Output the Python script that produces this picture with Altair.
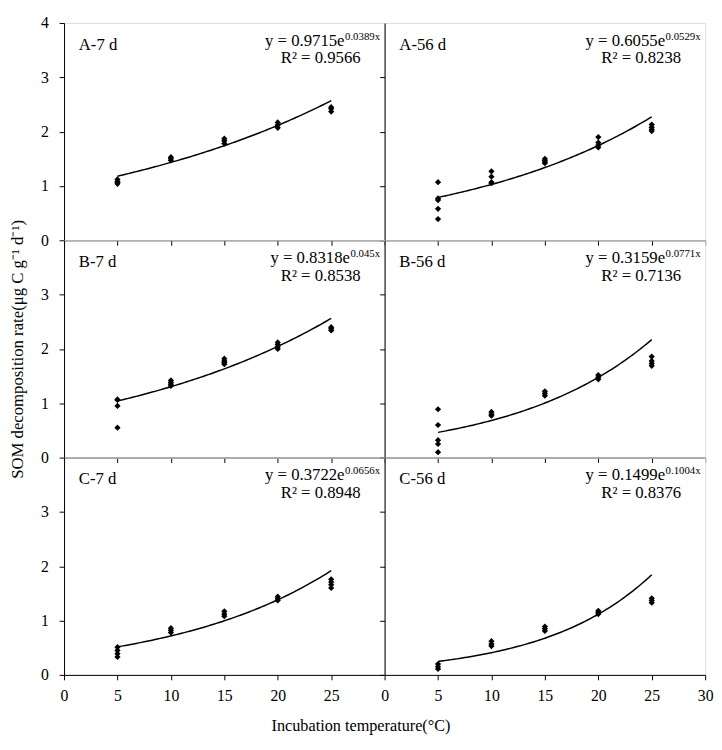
import altair as alt
import pandas as pd

# ---------------- data ----------------
temperature = [5, 10, 15, 20, 25]

panel_names = ["A-7 d", "A-56 d", "B-7 d", "B-56 d", "C-7 d", "C-56 d"]

rate_A7 = [[1.04, 1.08, 1.12, 1.06], [1.47, 1.50, 1.53], [1.78, 1.83, 1.87],
           [2.07, 2.12, 2.17], [2.37, 2.42, 2.45]]
rate_A56 = [[1.07, 0.77, 0.74, 0.58, 0.39], [1.27, 1.17, 1.07, 1.05], [1.50, 1.47, 1.44, 1.42],
            [1.90, 1.80, 1.75, 1.71], [2.13, 2.08, 2.04, 2.01]]
rate_B7 = [[1.07, 1.06, 0.95, 0.55], [1.42, 1.38, 1.35, 1.32], [1.82, 1.78, 1.75, 1.72],
           [2.12, 2.08, 2.04, 2.00], [2.40, 2.37, 2.34]]
rate_B56 = [[0.89, 0.60, 0.32, 0.25, 0.10], [0.84, 0.80, 0.77], [1.22, 1.18, 1.14],
            [1.52, 1.48, 1.44], [1.86, 1.78, 1.73, 1.69]]
rate_C7 = [[0.51, 0.45, 0.39, 0.33], [0.86, 0.82, 0.78], [1.17, 1.12, 1.08],
           [1.44, 1.40, 1.37], [1.76, 1.71, 1.66, 1.60]]
rate_C56 = [[0.20, 0.15, 0.11], [0.62, 0.57, 0.53], [0.89, 0.85, 0.81],
            [1.18, 1.15, 1.12], [1.41, 1.37, 1.33]]
rates = [rate_A7, rate_A56, rate_B7, rate_B56, rate_C7, rate_C56]

# exponential trend-line equations printed in each panel: y = a * e^(b x)
coef_a = [0.9715, 0.6055, 0.8318, 0.3159, 0.3722, 0.1499]
coef_b = [0.0389, 0.0529, 0.045, 0.0771, 0.0656, 0.1004]
a_text = ["0.9715", "0.6055", "0.8318", "0.3159", "0.3722", "0.1499"]
b_text = ["0.0389", "0.0529", "0.045", "0.0771", "0.0656", "0.1004"]
r2_text = ["0.9566", "0.8238", "0.8538", "0.7136", "0.8948", "0.8376"]

x_ticks_all = [0, 5, 10, 15, 20, 25, 30]
x_ticks_left_bottom = [0, 5, 10, 15, 20, 25]
y_ticks_top = [0, 1, 2, 3, 4]
y_ticks = [0, 1, 2, 3]

# ---------------- styling ----------------
FONT = "Liberation Serif"
W, H = 326, 221
SUP_SIZE = 11


def sup_width(s):
    # approximate advance width of the superscript text
    w = 0.0
    for ch in s:
        w += 0.25 if ch == "." else 0.5
    return w * SUP_SIZE


def panel(i):
    row, col = i // 2, i % 2
    recs = [{"t": t, "v": v} for t, vals in zip(temperature, rates[i]) for v in vals]
    df = pd.DataFrame(recs)

    show_x_labels = row == 2
    if show_x_labels:
        xvals = x_ticks_left_bottom if col == 0 else x_ticks_all
    else:
        xvals = x_ticks_all
    yvals = y_ticks_top if (row == 0 and col == 0) else y_ticks

    y_title = "SOM decomposition rate(μg C g⁻¹ d⁻¹)" if (row == 1 and col == 0) else None

    x_axis = alt.Axis(values=xvals, labels=show_x_labels, grid=False, title=None,
                      tickSize=5, tickColor="black", domainColor="black",
                      labelFont=FONT, labelFontSize=16, labelColor="black",
                      labelPadding=8, labelFlush=False)
    y_kwargs = dict(values=yvals, labels=(col == 0), grid=False,
                    tickSize=5, tickColor="black", domainColor="black",
                    labelFont=FONT, labelFontSize=16, labelColor="black",
                    labelPadding=11, labelFlush=False)
    if y_title:
        y_axis = alt.Axis(title=y_title, titleFont=FONT, titleFontSize=17,
                          titleFontWeight="normal", titleColor="black",
                          titlePadding=14, **y_kwargs)
    else:
        y_axis = alt.Axis(title=None, **y_kwargs)

    xs = alt.Scale(domain=[0, 30], nice=False, zero=False)
    ys = alt.Scale(domain=[0, 4], nice=False, zero=False)

    pts = alt.Chart(df).mark_point(shape="diamond", filled=True, color="black",
                                   size=40, opacity=1).encode(
        x=alt.X("t:Q", scale=xs, axis=x_axis),
        y=alt.Y("v:Q", scale=ys, axis=y_axis),
    )

    curve = alt.Chart(alt.sequence(5, 25.01, 0.25, as_="t")).transform_calculate(
        v=f"{coef_a[i]} * exp({coef_b[i]} * datum.t)"
    ).mark_line(color="black", strokeWidth=1.5).encode(
        x=alt.X("t:Q", scale=xs, axis=x_axis),
        y=alt.Y("v:Q", scale=ys, axis=y_axis),
    )

    sw = sup_width(b_text[i] + "x")
    anchor = W - 5 - sw

    lab = pd.DataFrame({"name": [panel_names[i]],
                        "eq": [f"y = {a_text[i]}e"],
                        "sup": [b_text[i] + "x"],
                        "r2": [f"R² = {r2_text[i]}"]})
    name_t = alt.Chart(lab).mark_text(align="left", baseline="alphabetic", font=FONT,
                                      fontSize=17, color="black").encode(
        x=alt.value(15), y=alt.value(27), text="name:N")
    eq_t = alt.Chart(lab).mark_text(align="right", baseline="alphabetic", font=FONT,
                                    fontSize=17, color="black").encode(
        x=alt.value(anchor), y=alt.value(23), text="eq:N")
    sup_t = alt.Chart(lab).mark_text(align="left", baseline="alphabetic", font=FONT,
                                     fontSize=SUP_SIZE, color="black").encode(
        x=alt.value(anchor + 0.5), y=alt.value(17), text="sup:N")
    r2_t = alt.Chart(lab).mark_text(align="center", baseline="alphabetic", font=FONT,
                                    fontSize=17, color="black").encode(
        x=alt.value(W - 65), y=alt.value(41), text="r2:N")

    return alt.layer(curve, pts, name_t, eq_t, sup_t, r2_t).properties(width=W, height=H)


charts = [panel(i) for i in range(6)]

chart = alt.concat(*charts, columns=2, spacing=0, bounds="flush").properties(
    title=alt.Title("Incubation temperature(°C)", orient="bottom", anchor="middle",
                    font=FONT, fontSize=16.5, fontWeight="normal", color="black",
                    offset=15),
    padding={"left": 0, "top": 0, "right": 0, "bottom": 0},
).configure_view(stroke="black", strokeWidth=1).configure(background="white")

chart.save("out.html", embed_options={"renderer": "svg", "actions": False})
